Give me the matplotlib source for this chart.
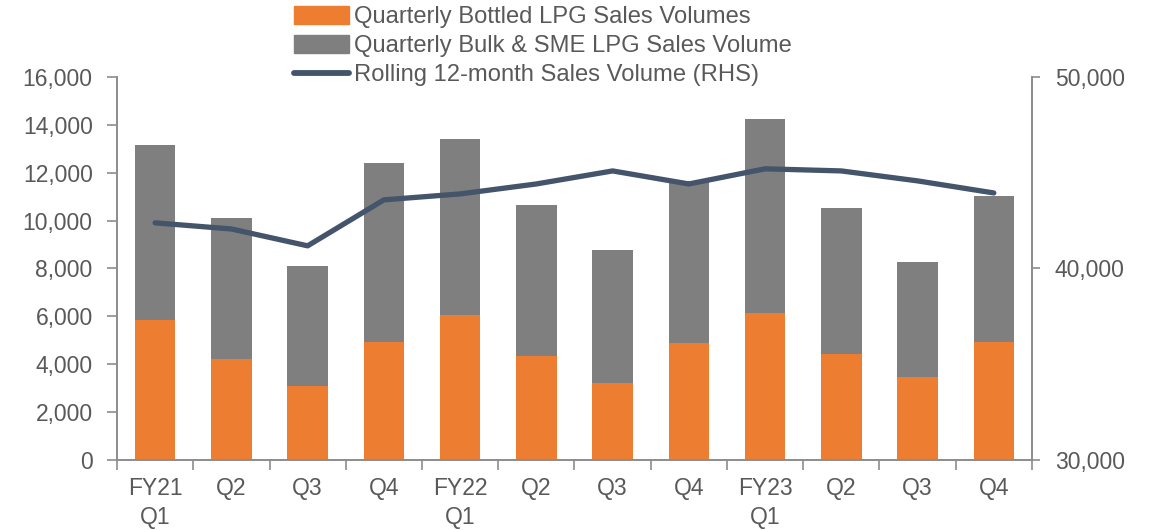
import numpy as np
import matplotlib
matplotlib.use("Agg")
import matplotlib.pyplot as plt
from matplotlib.patches import Patch
from matplotlib.lines import Line2D

plt.rcParams['font.family'] = ['Liberation Sans', 'DejaVu Sans']

quarters = ["FY21\nQ1", "Q2", "Q3", "Q4", "FY22\nQ1", "Q2", "Q3", "Q4",
            "FY23\nQ1", "Q2", "Q3", "Q4"]
bottled = [5850, 4220, 3090, 4930, 6060, 4340, 3220, 4890, 6140, 4430, 3470, 4930]
total = [13150, 10110, 8100, 12410, 13410, 10650, 8770, 11650, 14240, 10530, 8270, 11030]
bulk = [t - b for t, b in zip(total, bottled)]
rolling = [42380, 42060, 41180, 43580, 43890, 44410, 45090, 44410, 45200, 45090, 44570, 43940]

orange = "#ED7D31"
grey = "#7F7F7F"
navy = "#44546A"
txt = "#595959"
axc = "#8C8C8C"
fs = 16.5

fig = plt.figure(figsize=(11.53, 5.30), dpi=100)
ax = fig.add_axes([0.1015, 0.132, 0.7935, 0.723])
ax2 = ax.twinx()

x = np.arange(len(quarters))
ax.bar(x, bottled, width=0.53, color=orange, zorder=2)
ax.bar(x, bulk, width=0.53, bottom=bottled, color=grey, zorder=2)
ax2.plot(x, rolling, color=navy, lw=3.8, solid_capstyle='round', zorder=3)

ax.set_xlim(-0.5, len(quarters) - 0.5)
ax.set_ylim(0, 16000)
ax.set_yticks(np.arange(0, 16001, 2000))
ax.set_yticklabels([f"{v:,}" for v in range(0, 16001, 2000)])
ax2.set_ylim(30000, 50000)
ax2.set_yticks([30000, 40000, 50000])
ax2.set_yticklabels(["30,000", "40,000", "50,000"])

ax.set_xticks(np.arange(-0.5, len(quarters), 1))
ax.set_xticklabels([])
ax.set_xticks(x, minor=True)
ax.set_xticklabels(quarters, minor=True, linespacing=1.35)
ax.tick_params(axis='x', which='major', length=7, width=1.2, color=axc, direction='out')
ax.tick_params(axis='x', which='minor', length=0, pad=12, labelsize=fs, labelcolor=txt)
ax.tick_params(axis='y', length=7, width=1.2, color=axc, labelsize=fs, labelcolor=txt, pad=10.5)
ax2.tick_params(axis='y', length=6, width=1.2, color=axc, labelsize=fs, labelcolor=txt, pad=10.5)

for a in (ax, ax2):
    a.spines['top'].set_visible(False)
    for s in ('left', 'right', 'bottom'):
        a.spines[s].set_color(axc)
        a.spines[s].set_linewidth(1.2)

handles = [Patch(color=orange), Patch(color=grey), Line2D([], [], color=navy, lw=4.2, solid_capstyle='round')]
labels = ["Quarterly Bottled LPG Sales Volumes", "Quarterly Bulk & SME LPG Sales Volume",
          "Rolling 12-month Sales Volume (RHS)"]
fig.legend(handles, labels, loc='upper left', bbox_to_anchor=(0.247, 1.006), frameon=False,
           fontsize=17.1, labelcolor=txt, handlelength=2.3, handleheight=0.75,
           handletextpad=0.2, labelspacing=0.29, borderaxespad=0)

fig.savefig("out.png", dpi=100)
